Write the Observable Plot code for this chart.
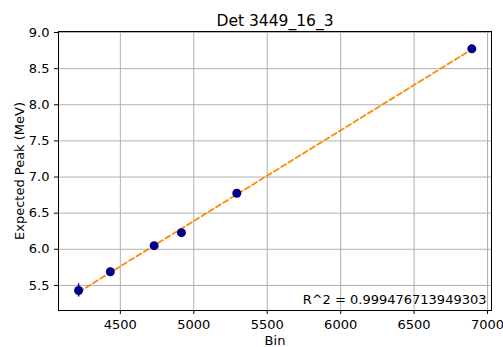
<!DOCTYPE html>
<html>
<head>
<meta charset="utf-8">
<script src="https://cdn.jsdelivr.net/npm/d3@7"></script>
<script src="https://cdn.jsdelivr.net/npm/@observablehq/plot@0.6"></script>
<style>
  html, body { margin: 0; padding: 0; background: #fff; }
  svg { font-family: "DejaVu Sans", sans-serif; }
</style>
</head>
<body>
<div id="chart"></div>
<script>
const bins = [4216, 4432, 4730, 4916, 5293, 6893];
const peaks = [5.43, 5.69, 6.05, 6.23, 6.776, 8.774];
const errors = [0.09, 0.05, 0.04, 0.04, 0.04, 0.03];
const xTicks = [4500, 5000, 5500, 6000, 6500, 7000];
const yTicks = [5.5, 6.0, 6.5, 7.0, 7.5, 8.0, 8.5, 9.0];
const title = "Det 3449_16_3";
const r2Label = "R^2 = 0.999476713949303";

const data = bins.map((b, i) => ({bin: b, peak: peaks[i], err: errors[i]}));

const chart = Plot.plot({
  width: 503,
  height: 347,
  marginLeft: 58,
  marginRight: 12,
  marginTop: 31,
  marginBottom: 37,
  style: {fontFamily: "DejaVu Sans, sans-serif", fontSize: "13px", background: "#fff", color: "#000"},
  x: {domain: [4079, 7027]},
  y: {domain: [5.153, 9.014]},
  marks: [
    Plot.gridX(xTicks, {stroke: "#b0b0b0", strokeOpacity: 1, strokeWidth: 1}),
    Plot.gridY(yTicks, {stroke: "#b0b0b0", strokeOpacity: 1, strokeWidth: 1}),
    Plot.linearRegressionY(data, {x: "bin", y: "peak", stroke: "#ff8c00", strokeWidth: 1.8, strokeDasharray: "5.5,3", ci: 0}),
    Plot.ruleX(data, {x: "bin", y1: d => d.peak - d.err, y2: d => d.peak + d.err, stroke: "#00008b", strokeWidth: 1.5}),
    Plot.dot(data, {x: "bin", y: "peak", r: 4.5, fill: "#00008b", stroke: "none"}),
    Plot.frame({stroke: "#000", strokeWidth: 1}),
    Plot.text([title], {frameAnchor: "top", dy: -17, fontSize: 15.5, fill: "#000"}),
    Plot.text([r2Label], {frameAnchor: "bottom-right", dx: -5, dy: -7, fontSize: 13, fill: "#000", textAnchor: "end"}),
    Plot.axisX({ticks: xTicks, tickFormat: d3.format("d"), tickSize: 4, fontSize: 13, label: "Bin", labelAnchor: "center", labelArrow: "none", labelOffset: 34}),
    Plot.axisY({ticks: yTicks, tickFormat: d3.format(".1f"), tickSize: 4, fontSize: 13, label: "Expected Peak (MeV)", labelAnchor: "center", labelArrow: "none", labelOffset: 44})
  ]
});
document.getElementById("chart").appendChild(chart);
</script>
</body>
</html>
